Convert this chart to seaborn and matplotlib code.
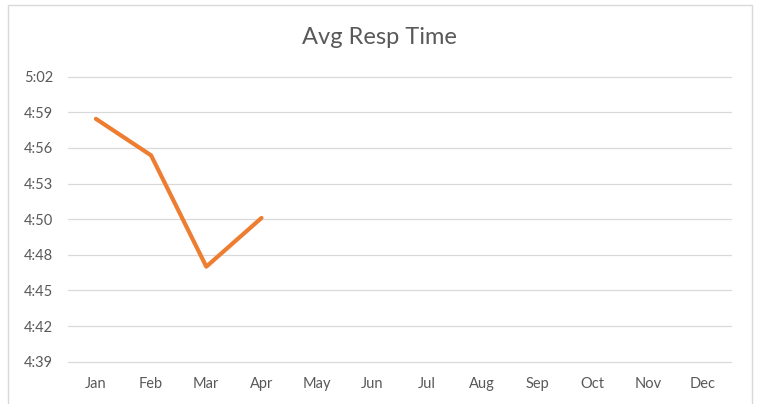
import matplotlib
matplotlib.use("Agg")
import matplotlib.pyplot as plt
import seaborn as sns
import pandas as pd
import numpy as np
from matplotlib.patches import Rectangle

months = ["Jan", "Feb", "Mar", "Apr", "May", "Jun", "Jul", "Aug", "Sep", "Oct", "Nov", "Dec"]
# average response time in seconds (only Jan-Apr reported)
resp_months = ["Jan", "Feb", "Mar", "Apr"]
resp_seconds = [298.6, 295.65, 286.67, 290.6]
y_tick_labels = ["4:39", "4:42", "4:45", "4:48", "4:50", "4:53", "4:56", "4:59", "5:02"]
y_min, y_max = 279.0, 302.0
title = "Avg Resp Time"

sns.set_theme(style="white")
plt.rcParams['font.family'] = ['Lato', 'DejaVu Sans']

df = pd.DataFrame({"month": resp_months, "seconds": resp_seconds})
df["pos"] = [months.index(m) for m in df["month"]]

fig = plt.figure(figsize=(7.58, 4.04), dpi=100)
fig.patch.set_facecolor("white")
ax = fig.add_axes([68.3/758, 1-361.7/404, (730.7-68.3)/758, (361.7-76.7)/404])

grey = "#595959"
yticks = np.linspace(y_min, y_max, len(y_tick_labels))
for yt in yticks:
    ax.axhline(yt, color="#D9D9D9", lw=0.9, zorder=0, clip_on=False)

sns.lineplot(data=df, x="pos", y="seconds", ax=ax, color="#ED7D31", lw=3.0,
             sort=False, solid_capstyle="round", solid_joinstyle="round")

ax.set_xlim(-0.5, 11.5)
ax.set_ylim(y_min, y_max)
ax.set_xticks(range(len(months)))
ax.set_xticklabels(months)
ax.set_yticks(yticks)
ax.set_yticklabels(y_tick_labels)
ax.tick_params(axis="both", length=0, labelsize=10.5, labelcolor=grey)
ax.tick_params(axis="y", pad=11)
ax.tick_params(axis="x", pad=11)
ax.set_xlabel("")
ax.set_ylabel("")
for s in ax.spines.values():
    s.set_visible(False)
ax.set_facecolor("none")

fig.text(0.5, 1-38/404, title, ha="center", va="center", fontsize=17, color=grey)

fig.patches.append(Rectangle((8/758, -0.1), (752-8)/758, 1.1-5/404, transform=fig.transFigure,
                             fill=False, edgecolor="#D9D9D9", lw=1.0))

fig.savefig("out.png", dpi=100, facecolor="white")
